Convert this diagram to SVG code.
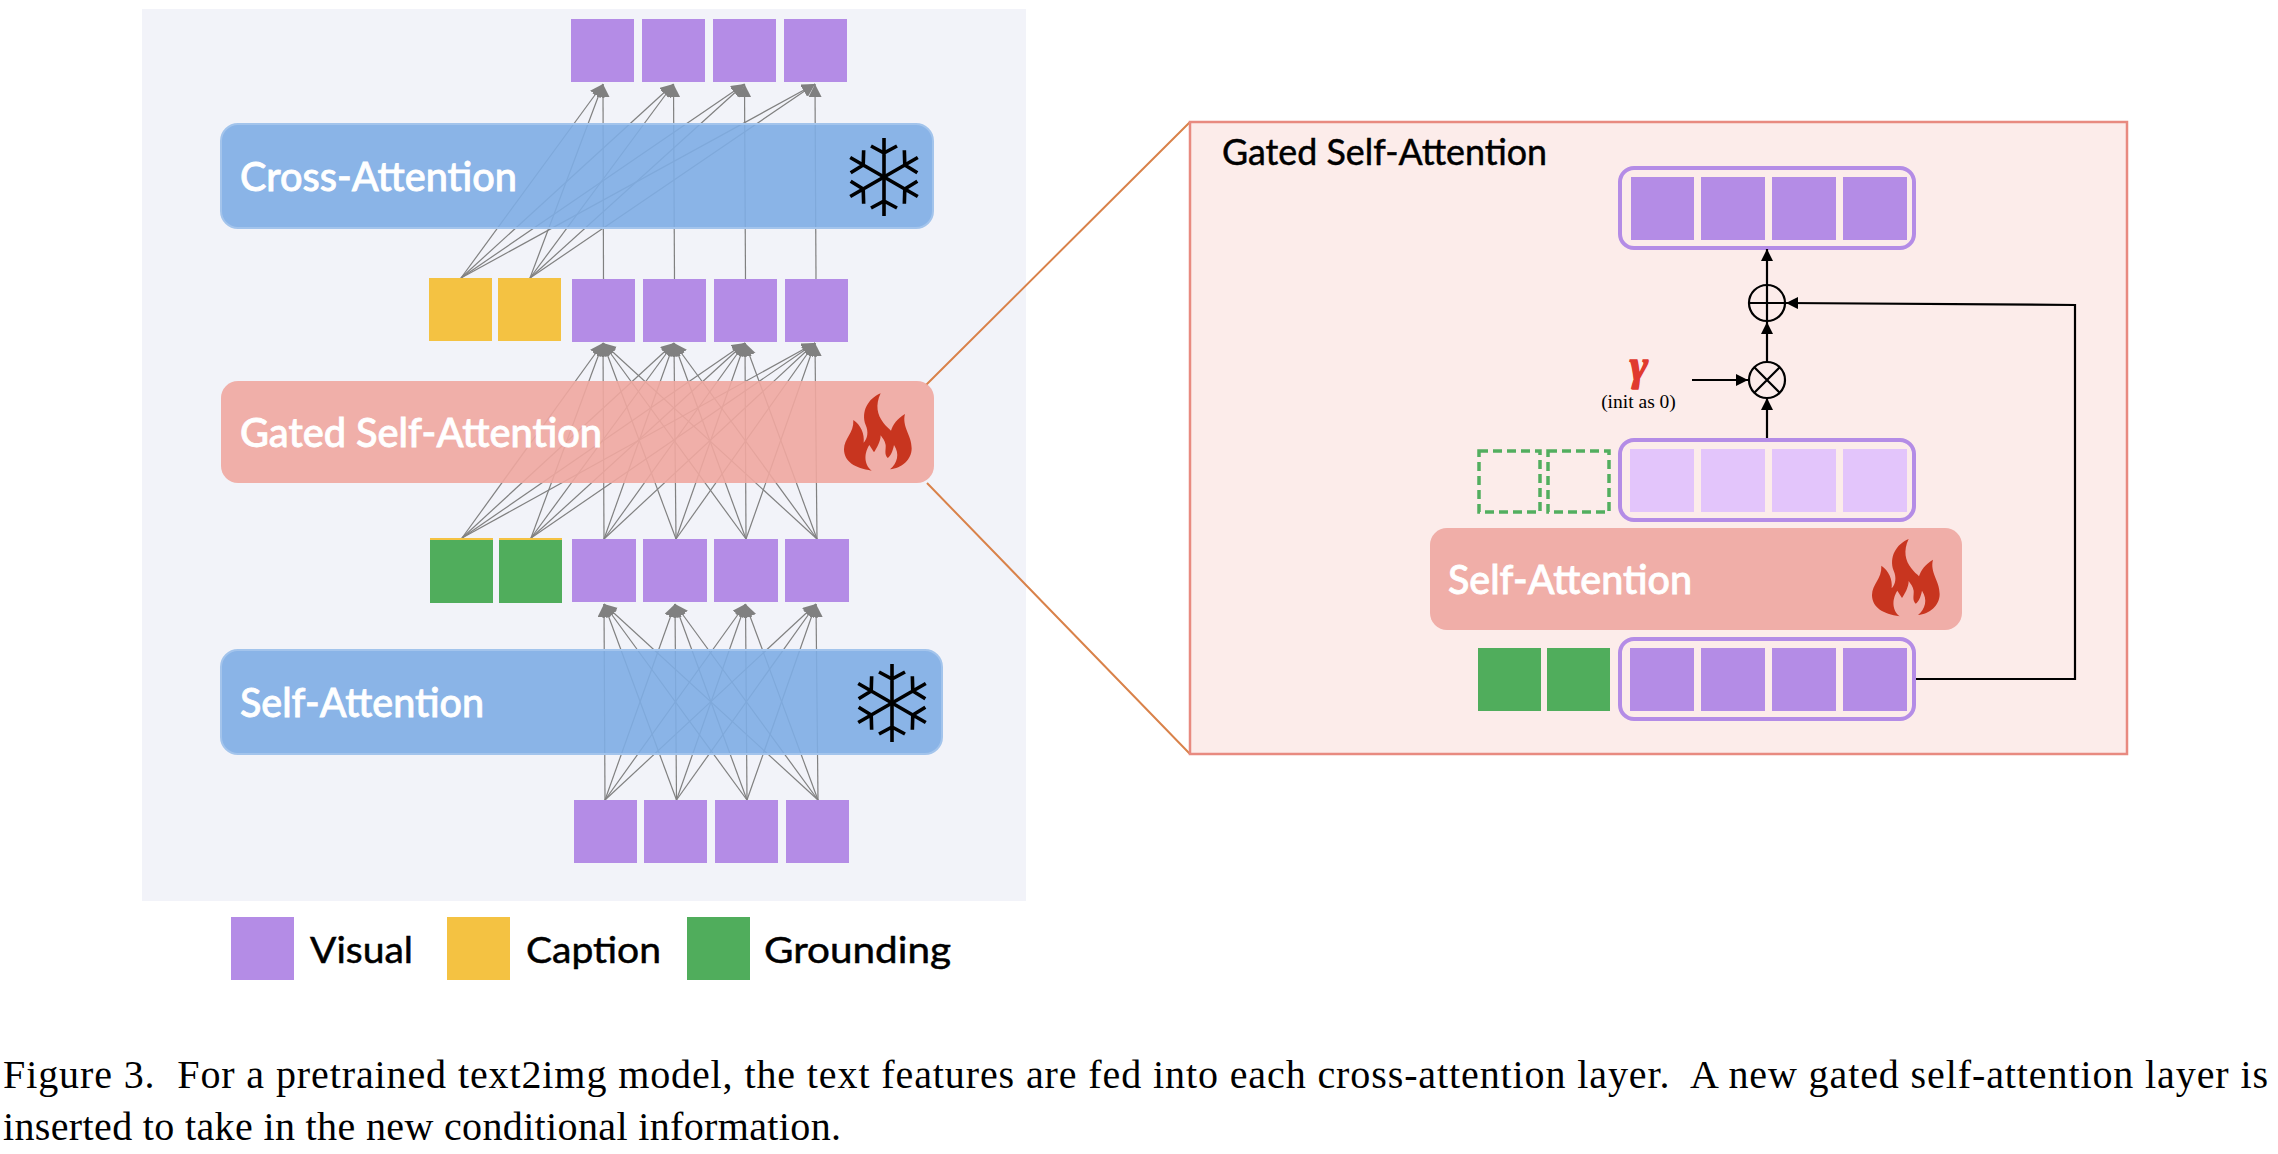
<svg xmlns="http://www.w3.org/2000/svg" xmlns:xlink="http://www.w3.org/1999/xlink" width="2278" height="1154" viewBox="0 0 2278 1154">
<style>
.v{fill:#b48ce6}.y{fill:#f4c242}.g{fill:#50ad5c}.l{fill:#e3c5fb}
.blue{fill:#7eade4;fill-opacity:.9;stroke:#a3c4ec;stroke-width:2}
.red{fill:#efa7a0;fill-opacity:.9}
.w{font-family:Lato,"Noto Sans",sans-serif;font-weight:500;font-size:40px;fill:#fff;stroke:#fff;stroke-width:.8}
.k{font-family:Lato,"Noto Sans",sans-serif;font-size:37px;fill:#000;stroke:#000;stroke-width:.5}
.bar{fill:none;stroke:#b48ce6;stroke-width:4}
.dash{fill:none;stroke:#52ae5f;stroke-width:3.5;stroke-dasharray:9 5}
.cap{font-family:"Liberation Serif","Times New Roman",serif;font-size:40px;fill:#000;white-space:pre}
.o{stroke:#d9824a;stroke-width:2;fill:none}
#gray line{stroke:#808080;stroke-width:1.2;marker-end:url(#ga)}
.b{stroke:#000;stroke-width:2.2;fill:none}
.ah{marker-end:url(#ba)}
.fl{fill:#c8351f}
.sn{stroke:#000;stroke-width:3.6;fill:none}
</style>
<defs>
<marker id="ga" markerUnits="userSpaceOnUse" markerWidth="16" markerHeight="14" refX="13" refY="6.500" orient="auto"><path d="M0 0L13 6.500L0 13Z" fill="#808080"/></marker>
<marker id="ba" markerUnits="userSpaceOnUse" markerWidth="14" markerHeight="14" refX="12" refY="6" orient="auto"><path d="M0 0L12 6L0 12Z" fill="#000"/></marker>
<path id="flame" d="M155 302C105 295 72 275 72 238C72 205 102 190 100 150C122 165 134 190 131 218C143 205 146 185 137 165C122 125 145 85 182 70C165 105 172 135 190 158C198 170 207 175 213 182C218 165 232 145 255 132C245 170 275 195 275 235C275 270 245 295 210 298C232 280 240 252 222 225C218 245 212 258 203 264C192 252 198 240 197 225C195 212 188 205 182 196C182 215 170 235 162 247L148 225C135 245 128 280 155 302Z"/>
<g id="arm"><path d="M0 0V-39M-13 -31L0 -24L13 -31"/></g>
<g id="snow" class="sn"><use href="#arm"/><use href="#arm" transform="rotate(60)"/><use href="#arm" transform="rotate(120)"/><use href="#arm" transform="rotate(180)"/><use href="#arm" transform="rotate(240)"/><use href="#arm" transform="rotate(300)"/></g>
</defs>
<rect width="2278" height="1154" fill="#fff"/>
<rect id="panel-left" x="142" y="9" width="884" height="892" fill="#f2f3f9"/>
<g id="connectors">
<path class="o" d="M926 385L1190 122M927 483L1190 754"/>
<g id="gray">
<line x1="461" y1="278" x2="603" y2="84"/><line x1="461" y1="278" x2="673.5" y2="84"/><line x1="461" y1="278" x2="744.5" y2="84"/><line x1="461" y1="278" x2="815" y2="84"/>
<line x1="530" y1="278" x2="603" y2="84"/><line x1="530" y1="278" x2="673.5" y2="84"/><line x1="530" y1="278" x2="744.5" y2="84"/><line x1="530" y1="278" x2="815" y2="84"/>
<line x1="603.5" y1="279" x2="603" y2="84"/><line x1="674.5" y1="279" x2="673.5" y2="84"/><line x1="745.5" y1="279" x2="744.5" y2="84"/><line x1="816" y1="279" x2="815" y2="84"/>

<line x1="462" y1="538" x2="603" y2="343"/><line x1="462" y1="538" x2="674" y2="343"/><line x1="462" y1="538" x2="745" y2="343"/><line x1="462" y1="538" x2="815" y2="343"/>
<line x1="531" y1="538" x2="603" y2="343"/><line x1="531" y1="538" x2="674" y2="343"/><line x1="531" y1="538" x2="745" y2="343"/><line x1="531" y1="538" x2="815" y2="343"/>
<line x1="604" y1="539" x2="603" y2="343"/><line x1="604" y1="539" x2="674" y2="343"/><line x1="604" y1="539" x2="745" y2="343"/><line x1="604" y1="539" x2="815" y2="343"/>
<line x1="676" y1="539" x2="603" y2="343"/><line x1="676" y1="539" x2="674" y2="343"/><line x1="676" y1="539" x2="745" y2="343"/><line x1="676" y1="539" x2="815" y2="343"/>
<line x1="746" y1="539" x2="603" y2="343"/><line x1="746" y1="539" x2="674" y2="343"/><line x1="746" y1="539" x2="745" y2="343"/><line x1="746" y1="539" x2="815" y2="343"/>
<line x1="817" y1="539" x2="603" y2="343"/><line x1="817" y1="539" x2="674" y2="343"/><line x1="817" y1="539" x2="745" y2="343"/><line x1="817" y1="539" x2="815" y2="343"/>

<line x1="605" y1="800" x2="604" y2="604"/><line x1="605" y1="800" x2="675" y2="604"/><line x1="605" y1="800" x2="745.5" y2="604"/><line x1="605" y1="800" x2="816" y2="604"/>
<line x1="676.5" y1="800" x2="604" y2="604"/><line x1="676.5" y1="800" x2="675" y2="604"/><line x1="676.5" y1="800" x2="745.5" y2="604"/><line x1="676.5" y1="800" x2="816" y2="604"/>
<line x1="747" y1="800" x2="604" y2="604"/><line x1="747" y1="800" x2="675" y2="604"/><line x1="747" y1="800" x2="745.5" y2="604"/><line x1="747" y1="800" x2="816" y2="604"/>
<line x1="818" y1="800" x2="604" y2="604"/><line x1="818" y1="800" x2="675" y2="604"/><line x1="818" y1="800" x2="745.5" y2="604"/><line x1="818" y1="800" x2="816" y2="604"/>
</g>
</g>
<g id="row-output"><rect class="v" x="571" y="19" width="63" height="63"/><rect class="v" x="642" y="19" width="63" height="63"/><rect class="v" x="713" y="19" width="63" height="63"/><rect class="v" x="784" y="19" width="63" height="63"/></g>
<g id="cross-attention"><rect class="blue" x="221" y="124" width="712" height="104" rx="17"/><text class="w" x="240" y="191" textLength="277" lengthAdjust="spacingAndGlyphs">Cross-Attention</text><use href="#snow" x="884" y="177"/></g>
<g id="row-caption"><rect class="y" x="429" y="278" width="63" height="63"/><rect class="y" x="498" y="278" width="63" height="63"/><rect class="v" x="572" y="279" width="63" height="63"/><rect class="v" x="643" y="279" width="63" height="63"/><rect class="v" x="714" y="279" width="63" height="63"/><rect class="v" x="785" y="279" width="63" height="63"/></g>
<g id="gated-self-attention"><rect class="red" x="221" y="381" width="713" height="102" rx="17"/><text class="w" x="240" y="447" textLength="362" lengthAdjust="spacingAndGlyphs">Gated Self-Attention</text><use href="#flame" class="fl" transform="translate(820 370) scale(.3333)"/></g>
<g id="row-grounding"><rect class="y" x="430" y="538" width="63" height="4"/><rect class="y" x="499" y="538" width="63" height="4"/><rect class="g" x="430" y="540" width="63" height="63"/><rect class="g" x="499" y="540" width="63" height="63"/><rect class="v" x="572" y="539" width="64" height="63"/><rect class="v" x="643" y="539" width="64" height="63"/><rect class="v" x="714" y="539" width="64" height="63"/><rect class="v" x="785" y="539" width="64" height="63"/></g>
<g id="self-attention"><rect class="blue" x="221" y="650" width="721" height="104" rx="17"/><text class="w" x="240" y="717" textLength="244" lengthAdjust="spacingAndGlyphs">Self-Attention</text><use href="#snow" x="892" y="703"/></g>
<g id="row-input"><rect class="v" x="574" y="800" width="63" height="63"/><rect class="v" x="644" y="800" width="63" height="63"/><rect class="v" x="715" y="800" width="63" height="63"/><rect class="v" x="786" y="800" width="63" height="63"/></g>
<g id="legend"><rect class="v" x="231" y="917" width="63" height="63"/><text class="k" x="310" y="963" textLength="103" lengthAdjust="spacingAndGlyphs">Visual</text><rect class="y" x="447" y="917" width="63" height="63"/><text class="k" x="526" y="963" textLength="135" lengthAdjust="spacingAndGlyphs">Caption</text><rect class="g" x="687" y="917" width="63" height="63"/><text class="k" x="764" y="963" textLength="187" lengthAdjust="spacingAndGlyphs">Grounding</text></g>
<g id="panel-right"><rect x="1190" y="122" width="937" height="632" fill="#fcecea" stroke="#e88a80" stroke-width="2.5"/><text class="k" x="1222" y="165" textLength="325" lengthAdjust="spacingAndGlyphs">Gated Self-Attention</text></g>
<g id="bar-output"><rect class="bar" x="1620" y="168" width="294" height="80" rx="14"/><rect class="v" x="1631" y="177" width="63" height="63"/><rect class="v" x="1701" y="177" width="64" height="63"/><rect class="v" x="1772" y="177" width="64" height="63"/><rect class="v" x="1843" y="177" width="64" height="63"/></g>
<g id="oplus"><circle class="b" cx="1767" cy="303" r="18"/><path class="b" d="M1749 303H1785M1767 285V321"/></g>
<g id="otimes"><circle class="b" cx="1767" cy="380" r="18"/><path class="b" d="M1754.300 367.300L1779.700 392.700M1779.700 367.300L1754.300 392.700"/></g>
<g id="gamma"><text x="1639" y="380" text-anchor="middle" font-family="Liberation Serif,serif" font-weight="700" font-style="italic" font-size="44" fill="#e03a2e" stroke="#e03a2e" stroke-width="1.500">γ</text><text x="1638.500" y="408" text-anchor="middle" font-family="Liberation Serif,serif" font-size="19.500" fill="#000">(init as 0)</text></g>
<g id="connectors-right"><path class="b ah" d="M1692 380H1748"/><path class="b ah" d="M1767 440V398"/><path class="b ah" d="M1767 362V322"/><path class="b ah" d="M1767 285V249"/><path class="b ah" d="M1914 679H2075V305L1786 303"/></g>
<g id="bar-mid"><rect class="dash" x="1479" y="451" width="61" height="61"/><rect class="dash" x="1548" y="451" width="61" height="61"/><rect class="bar" x="1620" y="440" width="294" height="80" rx="14"/><rect class="l" x="1630" y="449" width="64" height="63"/><rect class="l" x="1701" y="449" width="64" height="63"/><rect class="l" x="1772" y="449" width="64" height="63"/><rect class="l" x="1843" y="449" width="64" height="63"/></g>
<g id="self-attention-2"><rect x="1430" y="528" width="532" height="102" rx="17" fill="#f0aea8"/><text class="w" x="1448" y="594" textLength="244" lengthAdjust="spacingAndGlyphs">Self-Attention</text><use href="#flame" class="fl" transform="translate(1848 515.700) scale(.3333)"/></g>
<g id="bar-input"><rect class="g" x="1478" y="648" width="63" height="63"/><rect class="g" x="1547" y="648" width="63" height="63"/><rect class="bar" x="1620" y="639" width="294" height="80" rx="14"/><rect class="v" x="1630" y="648" width="64" height="63"/><rect class="v" x="1701" y="648" width="64" height="63"/><rect class="v" x="1772" y="648" width="64" height="63"/><rect class="v" x="1843" y="648" width="64" height="63"/></g>
<g id="caption"><text class="cap" x="3" y="1088" textLength="2265">Figure 3.  For a pretrained text2img model, the text features are fed into each cross-attention layer.  A new gated self-attention layer is</text><text class="cap" x="3" y="1140" textLength="838">inserted to take in the new conditional information.</text></g>
</svg>
